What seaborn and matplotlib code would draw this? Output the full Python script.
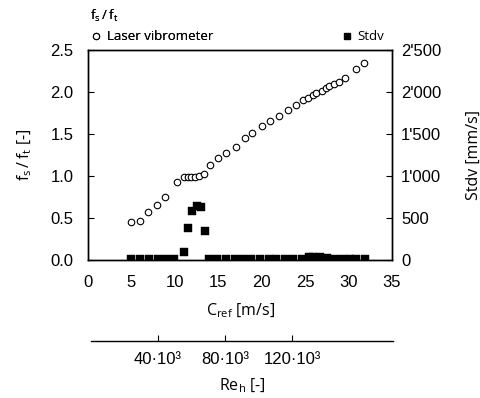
import matplotlib
matplotlib.use("Agg")
import matplotlib.pyplot as plt
from matplotlib.ticker import FuncFormatter, FixedLocator
from matplotlib.lines import Line2D
import seaborn as sns
import pandas as pd

# Frequency ratio f_s / f_t measured with the laser vibrometer
c_ratio = [5.0, 6.0, 6.9, 7.9, 8.9, 10.2, 11.0, 11.5, 11.9, 12.3, 12.8, 13.4,
           14.0, 15.0, 15.9, 17.0, 18.1, 18.9, 20.0, 21.0, 22.0, 23.0, 23.9,
           24.8, 25.3, 25.9, 26.3, 26.9, 27.4, 27.8, 28.3, 28.9, 29.6, 30.9, 31.8]
ratio = [0.45, 0.46, 0.57, 0.66, 0.75, 0.93, 0.99, 0.99, 0.99, 0.99, 1.00, 1.02,
         1.13, 1.21, 1.28, 1.35, 1.45, 1.51, 1.59, 1.66, 1.72, 1.79, 1.85,
         1.90, 1.93, 1.96, 1.99, 2.01, 2.05, 2.07, 2.09, 2.12, 2.17, 2.27, 2.34]

# Standard deviation of the vibration velocity
c_stdv = [5.0, 6.0, 7.0, 8.0, 9.0, 9.9, 11.0, 11.5, 12.0, 12.5, 13.0, 13.5,
          13.9, 14.9, 15.9, 16.9, 17.9, 18.8, 19.8, 20.8, 21.7, 22.7, 23.6,
          24.6, 25.4, 25.9, 26.7, 27.5, 28.4, 29.4, 30.2, 30.9, 31.9]
stdv = [8, 8, 8, 8, 15, 15, 92, 381, 580, 643, 631, 345,
        10, 10, 10, 10, 10, 10, 10, 10, 10, 10, 10,
        10, 30, 35, 30, 22, 12, 10, 10, 10, 12]

re_ticks = [40e3, 80e3, 120e3]
re_labels = ["40·10³", "80·10³", "120·10³"]

sns.set_style("ticks")
plt.rcParams["font.family"] = ["Liberation Sans", "DejaVu Sans"]
plt.rcParams["mathtext.default"] = "regular"
plt.rcParams["text.color"] = "black"
plt.rcParams["axes.labelcolor"] = "black"
plt.rcParams["xtick.color"] = "black"
plt.rcParams["ytick.color"] = "black"

LABEL_FONT = ["Open Sans", "DejaVu Sans"]

df_ratio = pd.DataFrame({"C": c_ratio, "ratio": ratio})
df_stdv = pd.DataFrame({"C": c_stdv, "stdv": stdv})

fig = plt.figure(figsize=(4.81, 3.98), dpi=100)
ax = fig.add_axes([0.183, 0.3467, 0.632, 0.5276])
ax2 = ax.twinx()

sns.scatterplot(data=df_ratio, x="C", y="ratio", ax=ax, marker="o",
                s=22, facecolor="white", edgecolor="black", linewidth=0.8,
                zorder=3, legend=False)
sns.scatterplot(data=df_stdv, x="C", y="stdv", ax=ax2, marker="s",
                s=30, color="black", edgecolor="black", linewidth=0.3,
                zorder=3, legend=False)

ax.set_xlim(0, 35)
ax.set_ylim(0, 2.5)
ax2.set_ylim(0, 2500)
ax.set_xticks(range(0, 36, 5))
ax.set_yticks([0, 0.5, 1.0, 1.5, 2.0, 2.5])
ax.yaxis.set_major_formatter(FuncFormatter(lambda v, p: f"{v:.1f}"))
ax2.set_yticks([0, 500, 1000, 1500, 2000, 2500])
ax2.yaxis.set_major_formatter(
    FuncFormatter(lambda v, p: f"{int(v):,}".replace(",", "'")))

for a in (ax, ax2):
    for sp in a.spines.values():
        sp.set_linewidth(1.0)
        sp.set_color("black")
        sp.set_visible(True)

ax.tick_params(axis="y", direction="in", length=4, width=0.8, pad=10.5,
               labelsize=12)
ax.tick_params(axis="x", direction="in", length=0, pad=11, labelsize=12)
ax2.tick_params(axis="y", direction="in", length=4, width=0.8, pad=6.5,
                labelsize=12)

ax.set_xlabel("$C_{ref}$ [m/s]", fontsize=11.5, family=LABEL_FONT, labelpad=8)
ax.set_ylabel("$f_s\\,/\\,f_t$ [-]", fontsize=11.5, family=LABEL_FONT, labelpad=12)
ax2.set_ylabel("Stdv [mm/s]", fontsize=11.5, family=LABEL_FONT, labelpad=18)

# Legends above the plot area
h1 = Line2D([], [], marker="o", ls="none", markersize=4.5,
            markerfacecolor="white", markeredgecolor="black", markeredgewidth=0.8)
h2 = Line2D([], [], marker="s", ls="none", markersize=4,
            markerfacecolor="black", markeredgecolor="black")
leg1 = ax.legend([h1], ["Laser vibrometer"], title="$f_s\\,/\\,f_t$",
                 loc="lower left", bbox_to_anchor=(-0.02, 0.995), frameon=False,
                 prop={"family": LABEL_FONT, "size": 9.5},
                 title_fontproperties={"family": LABEL_FONT, "size": 9.5},
                 handletextpad=0.3, borderpad=0.1, handlelength=1.0)
leg1._legend_box.align = "left"
ax.add_artist(leg1)
ax2.legend([h2], ["Stdv"], loc="lower right", bbox_to_anchor=(1.0, 0.995),
           frameon=False, prop={"family": LABEL_FONT, "size": 9.5},
           handletextpad=0.3, borderpad=0.1, handlelength=1.0)

# Secondary Reynolds-number scale below the main axis
ax3 = fig.add_axes([0.189, 0.1432, 0.628, 0.001])
ax3.set_xlim(0, 180e3)
ax3.set_ylim(0, 1)
ax3.patch.set_visible(False)
for name in ("top", "left", "right"):
    ax3.spines[name].set_visible(False)
ax3.spines["bottom"].set_linewidth(1.0)
ax3.spines["bottom"].set_color("black")
ax3.set_yticks([])
ax3.xaxis.set_major_locator(FixedLocator(re_ticks))
ax3.set_xticklabels(re_labels)
ax3.tick_params(axis="x", direction="in", length=4, width=0.8, pad=8,
                labelsize=12)
ax3.set_xlabel("$Re_h$ [-]", fontsize=11.5, family=LABEL_FONT, labelpad=7)

fig.savefig("out.png", dpi=100)
